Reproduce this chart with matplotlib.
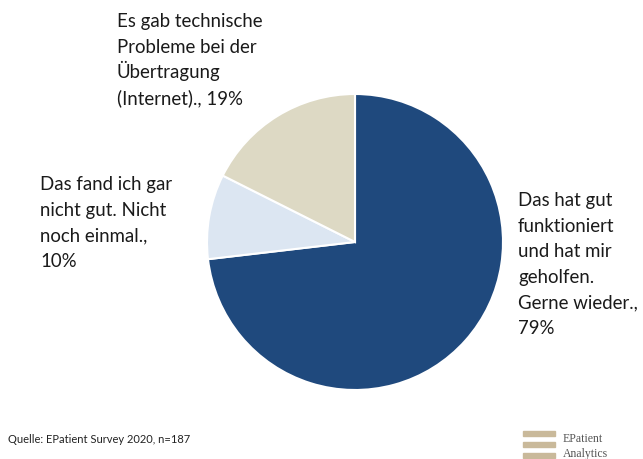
import matplotlib
matplotlib.use("Agg")
import matplotlib.pyplot as plt

# Survey answers and their shares (percent)
answers = [
    ["Das hat gut", "funktioniert", "und hat mir", "geholfen.", "Gerne wieder.,"],
    ["Das fand ich gar", "nicht gut. Nicht", "noch einmal.,"],
    ["Es gab technische", "Probleme bei der", "Übertragung", "(Internet).,"],
]
shares = [79, 10, 19]
colors = ["#1F497D", "#DCE6F2", "#DDD9C4"]
value_on_own_line = [True, True, False]

W, H = 643, 460
fig = plt.figure(figsize=(W / 100, H / 100), dpi=100)
fig.patch.set_facecolor("white")

# Pie placement (pixels): center and radius
cx, cy, r = 355, 243, 148
ax = fig.add_axes([(cx - r) / W, (H - cy - r) / H, 2 * r / W, 2 * r / H])
ax.pie(shares, colors=colors, startangle=90, counterclock=False,
       wedgeprops=dict(edgecolor="white", linewidth=1.5))
ax.set_xlim(-1, 1)
ax.set_ylim(-1, 1)
ax.set_aspect("equal")
ax.axis("off")

font = "Lato"
label_pos = [(518, 206), (40, 190), (117, 27)]  # left x, first baseline y (pixels)
line_step = 25.6
for lines, val, own, (x, y) in zip(answers, shares, value_on_own_line, label_pos):
    lines = list(lines)
    if own:
        lines.append(f"{val}%")
    else:
        lines[-1] = f"{lines[-1]} {val}%"
    for i, line in enumerate(lines):
        fig.text(x / W, 1 - (y + i * line_step) / H, line, ha="left", va="baseline",
                 fontsize=13.4, family=font, color="#1a1a1a")

fig.text(8 / W, 1 - 443 / H, "Quelle: EPatient Survey 2020, n=187",
         ha="left", va="baseline", fontsize=8, family=font, color="#222222")

# Logo bars and wordmark
for yb in (432, 443, 454):
    fig.patches.append(plt.Rectangle((523 / W, 1 - (yb + 5) / H), 32 / W, 5 / H,
                                     transform=fig.transFigure, color="#C9B99A"))
fig.text(563 / W, 1 - 442 / H, "EPatient", ha="left", va="baseline",
         fontsize=8.5, family="Liberation Serif", color="#555555")
fig.text(563 / W, 1 - 457 / H, "Analytics", ha="left", va="baseline",
         fontsize=8.5, family="Liberation Serif", color="#555555")

fig.savefig("out.png", dpi=100)
